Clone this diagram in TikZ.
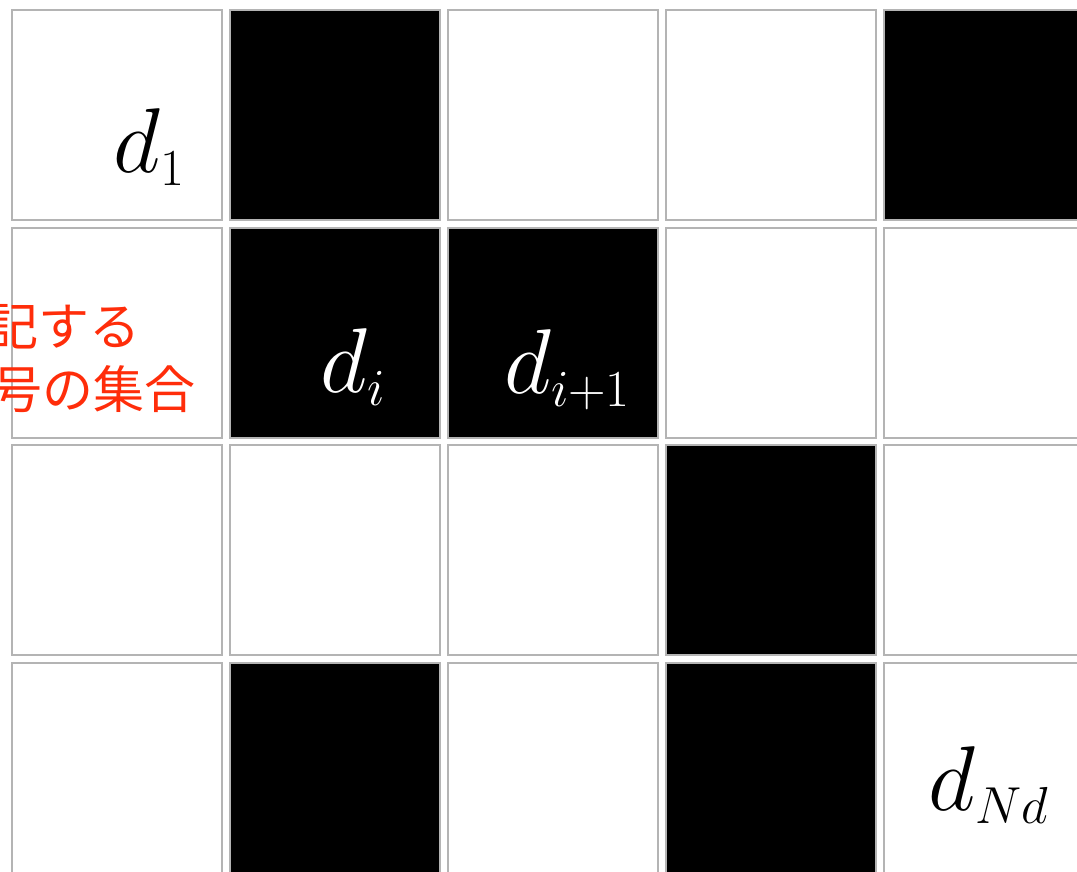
\RequirePackage{fix-cm}
\documentclass[tikz,border=0pt]{standalone}
\usepackage{fontspec}
\newfontfamily\cjk{Noto Sans CJK JP}
\DeclareMathSizes{92}{92}{52}{40}
\definecolor{cellgray}{HTML}{B4B4B4}
\definecolor{jpred}{HTML}{FF2D0A}
\begin{document}
\begin{tikzpicture}[x=1pt,y=-1pt,
  cell/.style={draw=cellgray,line width=2pt,minimum size=210pt,inner sep=0pt,outer sep=0pt,anchor=north west},
  whitecell/.style={cell,fill=white},
  blackcell/.style={cell,fill=black},
  lbl/.style={anchor=base west,inner sep=0pt,font=\fontsize{92}{92}\selectfont},
  jp/.style={anchor=base east,inner sep=0pt,text=jpred,font=\cjk\fontsize{51}{51}\selectfont}]
\useasboundingbox (0,0) rectangle (1077,871);
\foreach \r/\c in {0/0,0/2,0/3,1/0,1/3,1/4,2/0,2/1,2/2,2/4,3/0,3/2,3/4}
  \node[whitecell] (cell-\r-\c) at ({12+218*\c},{10+217.7*\r}) {};
\foreach \r/\c in {0/1,0/4,1/1,1/2,2/3,3/1,3/3}
  \node[blackcell] (cell-\r-\c) at ({12+218*\c},{10+217.7*\r}) {};
\node[lbl] (d1) at (113,172) {$d_1$};
\node[lbl,text=white] (di) at (320,392) {$d_i$};
\node[lbl,text=white] (dip) at (504,393) {$d_{i+1}$};
\node[lbl] (dN) at (928,810) {$d_{Nd}$};
\node[jp] (t1) at (141,345) {記する};
\node[jp] (t2) at (196,408) {号の集合};
\end{tikzpicture}
\end{document}
